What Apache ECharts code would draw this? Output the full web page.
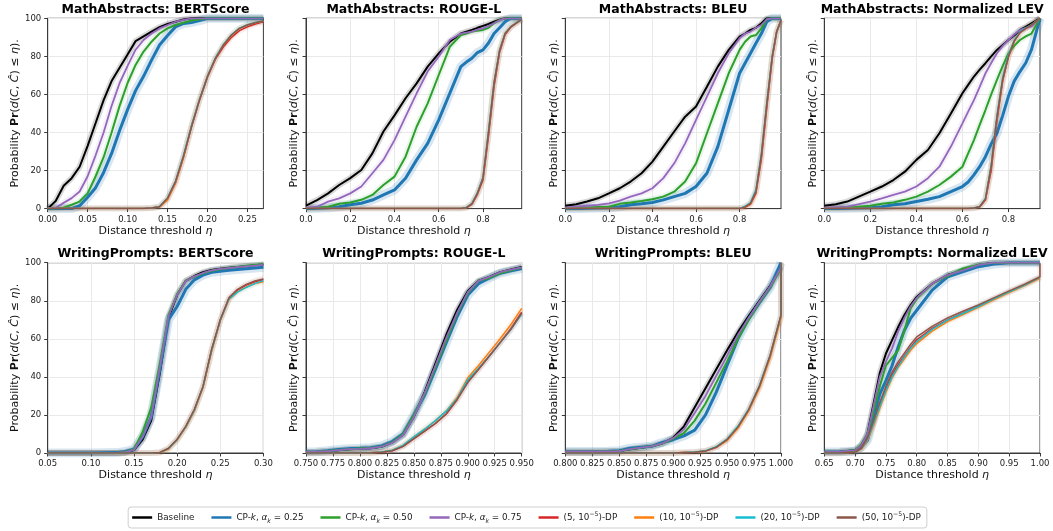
<!DOCTYPE html>
<html><head><meta charset="utf-8">
<script src="https://cdn.jsdelivr.net/npm/echarts@6/dist/echarts.min.js"></script>
<style>html,body{margin:0;padding:0;background:#fff}#c{width:1053px;height:531px}</style>
</head><body><div id="c"></div>
<script>
// ---------- series names / colours ----------
const SERIES_NAMES = ['Baseline','CP-k, αk = 0.25','CP-k, αk = 0.50','CP-k, αk = 0.75','(5, 10^-5)-DP','(10, 10^-5)-DP','(20, 10^-5)-DP','(50, 10^-5)-DP'];
const SERIES_COLORS = ['#000000','#1f77b4','#2ca02c','#9467bd','#d62728','#ff7f0e','#17becf','#8c564b'];
const PANEL_TITLES = ['MathAbstracts: BERTScore','MathAbstracts: ROUGE-L','MathAbstracts: BLEU','MathAbstracts: Normalized LEV',
  'WritingPrompts: BERTScore','WritingPrompts: ROUGE-L','WritingPrompts: BLEU','WritingPrompts: Normalized LEV'];
const Y_TICKS = [0,20,40,60,80,100];

// ---------- Panel 1: MathAbstracts BERTScore ----------
const MA_BERT_TICKS = [0,0.05,0.10,0.15,0.20,0.25];
const MA_BERT_X    = [0,0.01,0.02,0.03,0.04,0.05,0.06,0.07,0.08,0.09,0.10,0.11,0.12,0.13,0.14,0.15,0.16,0.17,0.18,0.19,0.20,0.21,0.22,0.23,0.24,0.25,0.26,0.27];
const MA_BERT_BASE = [0,4,12,16,22,33,45,57,67,74,81,88,90.5,93,95.3,97,98.2,99.4,100,100,100,100,100,100,100,100,100,100];
const MA_BERT_CP25 = [0,0,0,0,1.5,6,11,19,29,41,52,62,69.5,78,86,91,95.5,97.3,97.8,98.8,100,100,100,100,100,100,100,100];
const MA_BERT_CP50 = [0,0,0.5,2,3.7,8,17,27,40,54,66,75.5,82.5,87.7,92,94.7,96.5,97.7,98.8,99.5,100,100,100,100,100,100,100,100];
const MA_BERT_CP75 = [0,0.5,3,5.5,9,17,28,40,54,66,75,83.5,88.6,92,94.7,96.5,98.2,99.2,100,100,100,100,100,100,100,100,100,100];
const MA_BERT_DP5  = [0,0,0,0,0,0,0,0,0,0,0,0,0,0.3,1,5,13.5,27,43,57,69,78.5,85,90,93.5,95.5,97,98.2];
const MA_BERT_DP10 = [0,0,0,0,0,0,0,0,0,0,0,0,0,0.3,0.8,4.6,13.6,27,43.5,57.5,69.5,79,86,91,94.5,96.5,97.7,98.6];
const MA_BERT_DP20 = [0,0,0,0,0,0,0,0,0,0,0,0,0,0.3,1.1,5.6,14.5,28,43.5,57.5,69.6,79.3,86.3,91.3,94.8,96.6,97.8,98.6];
const MA_BERT_DP50 = [0,0,0,0,0,0,0,0,0,0,0,0,0,0.3,1,5.4,14.2,27.5,43,57,69.4,79,86,91.2,94.7,96.5,97.7,98.6];

// ---------- Panel 2: MathAbstracts ROUGE-L ----------
const MA_ROUGE_TICKS = [0,0.2,0.4,0.6,0.8];
const MA_ROUGE_X    = [0,0.05,0.1,0.15,0.2,0.25,0.3,0.35,0.4,0.45,0.5,0.55,0.6,0.65,0.7,0.725,0.75,0.775,0.8,0.825,0.85,0.875,0.9,0.925,0.95,0.975];
const MA_ROUGE_BASE = [1.6,4.5,8,12.4,16,20.3,29,40.5,49,58,65.8,74.6,81.6,87.7,92,93,93.9,95,96,97,98.2,99.3,100,100,100,100];
const MA_ROUGE_CP25 = [0,0.2,0.5,1,2,2.8,4.5,7.2,9.8,16,25.6,34.3,46.6,60.6,74.6,77,79,82,83.4,87,92,95,98.2,100,100,100];
const MA_ROUGE_CP50 = [0,0.3,1,2.5,3.2,4.6,7.2,12.4,16.8,27.3,43,55.3,70.2,85,91.2,92,93,93.5,93.9,95,97.4,99,100,100,100,100];
const MA_ROUGE_CP75 = [0.5,1,3.7,5.4,8,11.6,18.6,25.6,36,48.3,60.6,72,79.9,88.6,92,92.5,93,94,94.7,96,97.4,99,100,100,100,100];
const MA_ROUGE_DP5  = [0,0,0,0,0,0,0,0,0,0,0,0,0,0,0,0.4,2.2,7.5,15,38,64,82,91.5,95.2,97.3,99.4];
const MA_ROUGE_DP10 = [0,0,0,0,0,0,0,0,0,0,0,0,0,0,0,0.5,2.5,8,16,40,66,83,92,95.5,97.5,99.5];
const MA_ROUGE_DP20 = [0,0,0,0,0,0,0,0,0,0,0,0,0,0,0,0.6,2.7,8.4,16.5,41,66.5,83.3,92.2,95.6,97.6,99.5];
const MA_ROUGE_DP50 = [0,0,0,0,0,0,0,0,0,0,0,0,0,0,0,0.5,2.5,8,16,40,66,83,92,95.5,97.5,99.5];

// ---------- Panel 3: MathAbstracts BLEU ----------
const MA_BLEU_TICKS = [0,0.2,0.4,0.6,0.8];
const MA_BLEU_X    = [0,0.05,0.1,0.15,0.2,0.25,0.3,0.35,0.4,0.45,0.5,0.55,0.6,0.65,0.7,0.75,0.8,0.825,0.85,0.875,0.9,0.925,0.95,0.97,0.99];
const MA_BLEU_BASE = [1.5,2.3,3.7,5.4,8,10.7,14.2,18.6,24.7,32.6,40.5,48.3,53.6,64,74.6,83.4,90.4,92,93.9,95,97.4,100,100,100,100];
const MA_BLEU_CP25 = [0,0,0.2,0.3,0.5,1,2,2.5,3.2,4.6,6.3,8,11.6,18.6,32.6,51.8,71.1,76.4,81.6,86.9,92,98.2,100,100,100];
const MA_BLEU_CP50 = [0,0.3,0.5,0.8,1,2.5,3.2,4,4.9,6.3,8.9,14.2,23.8,39.6,55.3,71.1,83.4,87.7,90.4,91.2,94.7,99.5,100,100,100];
const MA_BLEU_CP75 = [0.5,1,1.5,2,2.8,4.2,6.3,8,10.7,16,23.8,34.3,46.6,58.8,71.1,81.6,89.5,92,93,95,96.5,99.5,100,100,100];
const MA_BLEU_DP5  = [0,0,0,0,0,0,0,0,0,0,0,0,0,0,0,0,0,0.6,2.2,8,26,53,79,92.5,99];
const MA_BLEU_DP10 = [0,0,0,0,0,0,0,0,0,0,0,0,0,0,0,0,0,0.8,2.6,9,28,55,80,93,99];
const MA_BLEU_DP20 = [0,0,0,0,0,0,0,0,0,0,0,0,0,0,0,0,0,1.2,3.2,10,29,56,80.5,93,99];
const MA_BLEU_DP50 = [0,0,0,0,0,0,0,0,0,0,0,0,0,0,0,0,0,0.9,2.8,9,28,55,80,93,99];

// ---------- Panel 4: MathAbstracts Normalized LEV ----------
const MA_LEV_TICKS = [0,0.2,0.4,0.6,0.8];
const MA_LEV_X    = [0,0.05,0.1,0.15,0.2,0.25,0.3,0.35,0.4,0.45,0.5,0.55,0.6,0.625,0.65,0.675,0.7,0.725,0.75,0.775,0.8,0.825,0.85,0.875,0.9,0.937];
const MA_LEV_BASE = [1.5,2.3,3.7,6.3,8.9,11.6,15,19.4,25.6,30.8,39.6,50,60.6,65,69.4,73,76.4,80,83.4,86,88.6,91,93.9,95.5,97.4,100];
const MA_LEV_CP25 = [0,0,0.2,0.3,0.5,1,2,2.5,3.7,4.9,6.3,8.9,11.6,14,17.7,22,27.3,34,39.6,49,59,67,72,76.5,83.5,100];
const MA_LEV_CP50 = [0,0.3,0.5,1,1.5,2.5,3.2,4.6,6.3,8.9,12.4,16.8,22,29,36,44,51.8,60,67.6,75,81.6,85.5,88.6,90.5,92,100];
const MA_LEV_CP75 = [0.5,0.8,1,2.3,3.7,5.4,7.2,8.9,11.6,16,22,32.6,44.8,51,57,64,71.1,76.5,81.6,85.5,88.6,91.5,93.9,95,95.6,100];
const MA_LEV_DP5  = [0,0,0,0,0,0,0,0,0,0,0,0,0,0,0.2,0.8,4.5,20,46,67,80,88,92.5,94.7,96.5,100];
const MA_LEV_DP10 = [0,0,0,0,0,0,0,0,0,0,0,0,0,0,0.3,1,5,22,48,68,80,88,92.5,94.7,96.5,100];
const MA_LEV_DP20 = [0,0,0,0,0,0,0,0,0,0,0,0,0,0,0.3,1.1,5.4,23,49,69,81,88.5,93,95,96.7,100];
const MA_LEV_DP50 = [0,0,0,0,0,0,0,0,0,0,0,0,0,0,0.3,1,5,22,48,68,80,88,92.5,94.7,96.5,100];

// ---------- Panel 5: WritingPrompts BERTScore ----------
const WP_BERT_TICKS = [0.05,0.10,0.15,0.20,0.25,0.30];
const WP_BERT_X    = [0.05,0.1,0.13,0.14,0.15,0.16,0.17,0.18,0.19,0.2,0.21,0.22,0.23,0.24,0.25,0.26,0.27,0.28,0.29,0.3];
const WP_BERT_BASE = [0,0,0,0.3,1.5,7,17,42,71,83,90.5,93,95,96.2,96.8,97.3,97.8,98.2,98.6,99];
const WP_BERT_CP25 = [0,0,0.2,0.8,2,8.5,19,44,70,77,86,91,93.5,95,95.5,96,96.4,96.8,97.2,97.6];
const WP_BERT_CP50 = [0,0,0,0.5,2,11,24,47,72.5,83.5,90.5,92.6,94.4,95.8,96.6,97.2,97.8,98.4,98.8,99.2];
const WP_BERT_CP75 = [0,0,0,0.4,1.7,8.5,19,45,72,83,90.3,92.8,94.6,96,96.7,97.2,97.7,98.1,98.5,98.9];
const WP_BERT_DP5  = [0,0,0,0,0,0,0,0.3,2.3,7,13.7,22.5,34.7,54,69.8,81.2,85.6,88.2,90,91.2];
const WP_BERT_DP10 = [0,0,0,0,0,0,0,0.3,2,6.8,13.5,22,34.5,53.5,69.5,80.5,84.8,87.2,89,90];
const WP_BERT_DP20 = [0,0,0,0,0,0,0,0.3,2.3,7,13.7,22.5,35,54,69.8,80.8,84.5,87,89,90.6];
const WP_BERT_DP50 = [0,0,0,0,0,0,0,0.3,2.5,7.2,14,23,35,54.5,70,81.5,86,88.6,90.4,91.5];

// ---------- Panel 6: WritingPrompts ROUGE-L ----------
const WP_ROUGE_TICKS = [0.75,0.775,0.8,0.825,0.85,0.875,0.9,0.925,0.95];
const WP_ROUGE_X    = [0.75,0.76,0.77,0.78,0.79,0.8,0.81,0.82,0.83,0.84,0.85,0.86,0.87,0.88,0.89,0.9,0.91,0.92,0.93,0.94,0.95];
const WP_ROUGE_BASE = [0.5,0.7,1,1.5,2,2.2,2.5,3.3,5.5,9.5,19,32,47,62,75,85,90.5,92.5,95,96.5,97.8];
const WP_ROUGE_CP25 = [0.5,0.7,1.2,1.8,2.3,2.5,2.8,3.7,6,10,20,30.5,44,58,71.5,83,89,92,94.5,95.8,97];
const WP_ROUGE_CP50 = [0.5,0.7,1,1.6,2,2.3,2.6,3.4,5.6,9.8,20,31,45,59,73,84,90.5,92,94.5,96,97.4];
const WP_ROUGE_CP75 = [0.5,0.7,1,1.5,2,2.2,2.5,3.3,5.3,9.3,19,31.5,46,60.5,73.5,84.5,90.5,92.5,95,96.3,97.6];
const WP_ROUGE_DP5  = [0,0,0,0,0,0,0.1,0.4,1.2,3.5,7.5,11.5,15.5,20.5,28,37.5,44,51,58,65.5,74];
const WP_ROUGE_DP10 = [0,0,0,0,0,0,0.1,0.5,1.5,4,8.4,12.5,17,22,29,39.5,46,53,60,67.5,76];
const WP_ROUGE_DP20 = [0,0,0,0,0,0,0.1,0.5,1.5,4,8.5,12.5,17,22,28.5,38.5,44.5,51,58,65,73];
const WP_ROUGE_DP50 = [0,0,0,0,0,0,0.1,0.4,1.2,3.5,7.5,11.5,15.5,20.5,28,37,44,51,58,65,73.5];

// ---------- Panel 7: WritingPrompts BLEU ----------
const WP_BLEU_TICKS = [0.8,0.825,0.85,0.875,0.9,0.925,0.95,0.975,1.0];
const WP_BLEU_X    = [0.8,0.81,0.82,0.83,0.84,0.85,0.86,0.87,0.88,0.89,0.9,0.91,0.92,0.93,0.94,0.95,0.96,0.97,0.98,0.99,1.0,1.0];
const WP_BLEU_BASE = [0.8,0.8,0.8,0.8,0.9,1,2,2.8,3.5,5,8,14,24,34,44,54,63.5,72,80,88,98,98];
const WP_BLEU_CP25 = [0.8,0.8,0.8,0.8,0.9,1.2,2.5,3,3.5,5.5,7,9,12,20,32,46,60,70.5,79,87,100,100];
const WP_BLEU_CP50 = [0.8,0.8,0.8,0.8,0.9,1,2,2.8,3.5,5,7.5,10.5,17,26,37,48,60,70,79,87,97,97];
const WP_BLEU_CP75 = [0.8,0.8,0.8,0.8,0.9,1,2,2.8,3.5,5,7.8,12.5,21,30,40.5,51,62,71,79.5,87.5,97.5,97.5];
const WP_BLEU_DP5  = [0,0,0,0,0,0,0,0,0,0,0,0.2,0.4,1,3,7,13.5,22.5,35,51,72,100];
const WP_BLEU_DP10 = [0,0,0,0,0,0,0,0,0,0,0,0.2,0.4,1,3,6.5,13,22,34,50,71,100];
const WP_BLEU_DP20 = [0,0,0,0,0,0,0,0,0,0,0,0.2,0.5,1.2,3.3,7.3,14,23,35.5,51.5,72.5,100];
const WP_BLEU_DP50 = [0,0,0,0,0,0,0,0,0,0,0,0.2,0.4,1,3,7,13.6,22.7,35,51.4,72.5,100];

// ---------- Panel 8: WritingPrompts Normalized LEV ----------
const WP_LEV_TICKS = [0.65,0.70,0.75,0.80,0.85,0.90,0.95,1.00];
const WP_LEV_X    = [0.65,0.675,0.7,0.71,0.72,0.73,0.74,0.75,0.76,0.77,0.78,0.79,0.8,0.825,0.85,0.875,0.9,0.925,0.95,0.975,1.0,1.0];
const WP_LEV_BASE = [0.5,0.7,1.4,4,10,26,42,52.3,59.3,66.3,72.5,77.7,82,89,93.5,96,98.8,100,100,100,100,100];
const WP_LEV_CP25 = [0.5,0.7,1,3,6.7,19,31,38,46,55.8,64.5,70.7,75,85.6,92.6,95.3,97.9,99.3,100,100,100,100];
const WP_LEV_CP50 = [0.5,0.7,1.5,4.5,10,22,35,46,50,54,64.5,76,81,89,93,97,99,100,100,100,100,100];
const WP_LEV_CP75 = [0.5,0.7,1.4,4,10,25,40,48,55,64,71,77,81.5,89,93.5,96,98.8,100,100,100,100,100];
const WP_LEV_DP5  = [0,0,0.5,2.5,7.5,16,25.5,34,41,46.5,51,55.5,59.5,65.5,70,73.5,77,81,84.7,88.2,92.3,92.3];
const WP_LEV_DP10 = [0,0,0.4,2,6.5,14.5,23.5,32,39.5,45,49.5,54,57.5,64,69,72.8,76.5,80.5,84.3,88,91.8,91.8];
const WP_LEV_DP20 = [0,0,0.5,2.3,7,15.5,24.5,33,40,45.5,50.5,55,58.5,65,69.8,73.3,77,81,84.7,88.2,92.3,92.3];
const WP_LEV_DP50 = [0,0,0.5,2.5,7.8,17,26.5,35,42.5,48,52.5,57,61,66.5,71,74.5,77.8,81.5,85.2,88.7,92.6,99.7];

// ---------- panel table built from the arrays ----------
const PANELS = [
  {x: MA_BERT_X, ys: [MA_BERT_BASE,MA_BERT_CP25,MA_BERT_CP50,MA_BERT_CP75,MA_BERT_DP5,MA_BERT_DP10,MA_BERT_DP20,MA_BERT_DP50], ticks: MA_BERT_TICKS, min: 0, max: 0.27, interval: 0.05, dec: 2},
  {x: MA_ROUGE_X, ys: [MA_ROUGE_BASE,MA_ROUGE_CP25,MA_ROUGE_CP50,MA_ROUGE_CP75,MA_ROUGE_DP5,MA_ROUGE_DP10,MA_ROUGE_DP20,MA_ROUGE_DP50], ticks: MA_ROUGE_TICKS, min: 0, max: 0.975, interval: 0.2, dec: 1},
  {x: MA_BLEU_X, ys: [MA_BLEU_BASE,MA_BLEU_CP25,MA_BLEU_CP50,MA_BLEU_CP75,MA_BLEU_DP5,MA_BLEU_DP10,MA_BLEU_DP20,MA_BLEU_DP50], ticks: MA_BLEU_TICKS, min: 0, max: 0.99, interval: 0.2, dec: 1},
  {x: MA_LEV_X, ys: [MA_LEV_BASE,MA_LEV_CP25,MA_LEV_CP50,MA_LEV_CP75,MA_LEV_DP5,MA_LEV_DP10,MA_LEV_DP20,MA_LEV_DP50], ticks: MA_LEV_TICKS, min: 0, max: 0.937, interval: 0.2, dec: 1},
  {x: WP_BERT_X, ys: [WP_BERT_BASE,WP_BERT_CP25,WP_BERT_CP50,WP_BERT_CP75,WP_BERT_DP5,WP_BERT_DP10,WP_BERT_DP20,WP_BERT_DP50], ticks: WP_BERT_TICKS, min: 0.05, max: 0.30, interval: 0.05, dec: 2},
  {x: WP_ROUGE_X, ys: [WP_ROUGE_BASE,WP_ROUGE_CP25,WP_ROUGE_CP50,WP_ROUGE_CP75,WP_ROUGE_DP5,WP_ROUGE_DP10,WP_ROUGE_DP20,WP_ROUGE_DP50], ticks: WP_ROUGE_TICKS, min: 0.75, max: 0.95, interval: 0.025, dec: 3},
  {x: WP_BLEU_X, ys: [WP_BLEU_BASE,WP_BLEU_CP25,WP_BLEU_CP50,WP_BLEU_CP75,WP_BLEU_DP5,WP_BLEU_DP10,WP_BLEU_DP20,WP_BLEU_DP50], ticks: WP_BLEU_TICKS, min: 0.8, max: 1.0, interval: 0.025, dec: 3},
  {x: WP_LEV_X, ys: [WP_LEV_BASE,WP_LEV_CP25,WP_LEV_CP50,WP_LEV_CP75,WP_LEV_DP5,WP_LEV_DP10,WP_LEV_DP20,WP_LEV_DP50], ticks: WP_LEV_TICKS, min: 0.65, max: 1.0, interval: 0.05, dec: 2}
];

// ---------- layout / style ----------
const FONT = 'DejaVu Sans';
const GRID_LEFTS = [47.7, 306, 565.3, 824.3];
const GRID_TOPS = [18.3, 262.7];
const GRID_W = 215.7, GRID_H = 190.3;
const LINE_W = [2, 3, 2, 1.8, 1.5, 1.5, 1.5, 1.5];
const BAND_W = [6, 9, 6, 6, 6, 6, 6, 6];
const BAND_OP = [0.15, 0.18, 0.1, 0.1, 0.08, 0.08, 0.08, 0.08];
const YNAME = 'Probability {b|Pr}({i|d}({i|C}, {i|Ĉ}) ≤ {i|η}).';
const LEGEND_LABELS = ['Baseline','CP-{i|k}, {i|α}{s|k} = 0.25','CP-{i|k}, {i|α}{s|k} = 0.50','CP-{i|k}, {i|α}{s|k} = 0.75',
  '(5, 10{p|−5})-DP','(10, 10{p|−5})-DP','(20, 10{p|−5})-DP','(50, 10{p|−5})-DP'];

const grids = [], xAxes = [], yAxes = [], titles = [], bands = [], mains = [];
PANELS.forEach((p, k) => {
  const col = k % 4, row = Math.floor(k / 4);
  const left = GRID_LEFTS[col], top = GRID_TOPS[row];
  grids.push({left: left, top: top, width: GRID_W, height: GRID_H, show: true, borderColor: '#3a3a3a', borderWidth: 1, backgroundColor: '#fff'});
  titles.push({text: PANEL_TITLES[k], left: left + GRID_W / 2, top: row === 0 ? 3 : 247.5, textAlign: 'center', padding: 0,
    textStyle: {fontFamily: FONT, fontSize: 12.5, fontWeight: 'bold', color: '#000'}});
  xAxes.push({type: 'value', gridIndex: k, min: p.min, max: p.max, interval: p.interval,
    name: 'Distance threshold {i|η}', nameLocation: 'middle', nameGap: 17,
    nameTextStyle: {fontFamily: FONT, fontSize: 11, color: '#111', rich: {i: {fontFamily: FONT, fontSize: 11, fontStyle: 'italic', color: '#111'}}},
    axisLine: {show: true, lineStyle: {color: '#3a3a3a', width: 1}},
    axisTick: {show: true, length: 3.5, customValues: p.ticks, lineStyle: {color: '#3a3a3a'}},
    axisLabel: {show: true, customValues: p.ticks, margin: 6.5, fontFamily: FONT, fontSize: 8.5, color: '#222', formatter: v => v.toFixed(p.dec)},
    splitLine: {show: true, lineStyle: {color: '#e9e9e9', width: 1}}});
  yAxes.push({type: 'value', gridIndex: k, min: 0, max: 100, interval: 20,
    name: YNAME, nameLocation: 'middle', nameRotate: 90, nameGap: col === 0 ? 25 : 6,
    nameTextStyle: {fontFamily: FONT, fontSize: 11, color: '#111',
      rich: {b: {fontFamily: FONT, fontSize: 11, fontWeight: 'bold', color: '#111'},
             i: {fontFamily: FONT, fontSize: 11, fontStyle: 'italic', color: '#111'}}},
    axisLine: {show: true, lineStyle: {color: '#3a3a3a', width: 1}},
    axisTick: {show: true, length: 3.5, customValues: Y_TICKS, lineStyle: {color: '#3a3a3a'}},
    axisLabel: {show: col === 0, customValues: Y_TICKS, margin: 6.5, fontFamily: FONT, fontSize: 8.5, color: '#222'},
    splitLine: {show: true, lineStyle: {color: '#e9e9e9', width: 1}}});
  p.ys.forEach((ys, s) => {
    const data = p.x.map((xv, i) => [xv, ys[i]]);
    bands.push({type: 'line', name: 'band', xAxisIndex: k, yAxisIndex: k, data: data, symbol: 'none', silent: true, z: 1,
      lineStyle: {color: SERIES_COLORS[s], width: BAND_W[s], opacity: BAND_OP[s]}, emphasis: {disabled: true}});
    mains.push({type: 'line', name: SERIES_NAMES[s], xAxisIndex: k, yAxisIndex: k, data: data, symbol: 'none', z: 2,
      color: SERIES_COLORS[s], lineStyle: {color: SERIES_COLORS[s], width: LINE_W[s]}, emphasis: {disabled: true}});
  });
});

const chart = echarts.init(document.getElementById('c'), null, {renderer: 'canvas'});
chart.setOption({
  animation: false,
  backgroundColor: '#fff',
  title: titles,
  grid: grids,
  xAxis: xAxes,
  yAxis: yAxes,
  legend: {
    data: SERIES_NAMES, left: 'center', bottom: 3, orient: 'horizontal',
    icon: 'rect', itemWidth: 20, itemHeight: 2.5, itemGap: 17, padding: [4, 6, 4, 4],
    borderColor: '#cfcfcf', borderWidth: 1, borderRadius: 3,
    formatter: name => LEGEND_LABELS[SERIES_NAMES.indexOf(name)],
    textStyle: {fontFamily: FONT, fontSize: 8.8, color: '#222', lineHeight: 13,
      rich: {i: {fontFamily: FONT, fontSize: 8.8, fontStyle: 'italic', color: '#222', lineHeight: 13},
             s: {fontFamily: FONT, fontSize: 6.2, fontStyle: 'italic', color: '#222', lineHeight: 8, verticalAlign: 'bottom'},
             p: {fontFamily: FONT, fontSize: 6.2, color: '#222', lineHeight: 8, verticalAlign: 'top'}}}
  },
  series: bands.concat(mains)
});
</script></body></html>
